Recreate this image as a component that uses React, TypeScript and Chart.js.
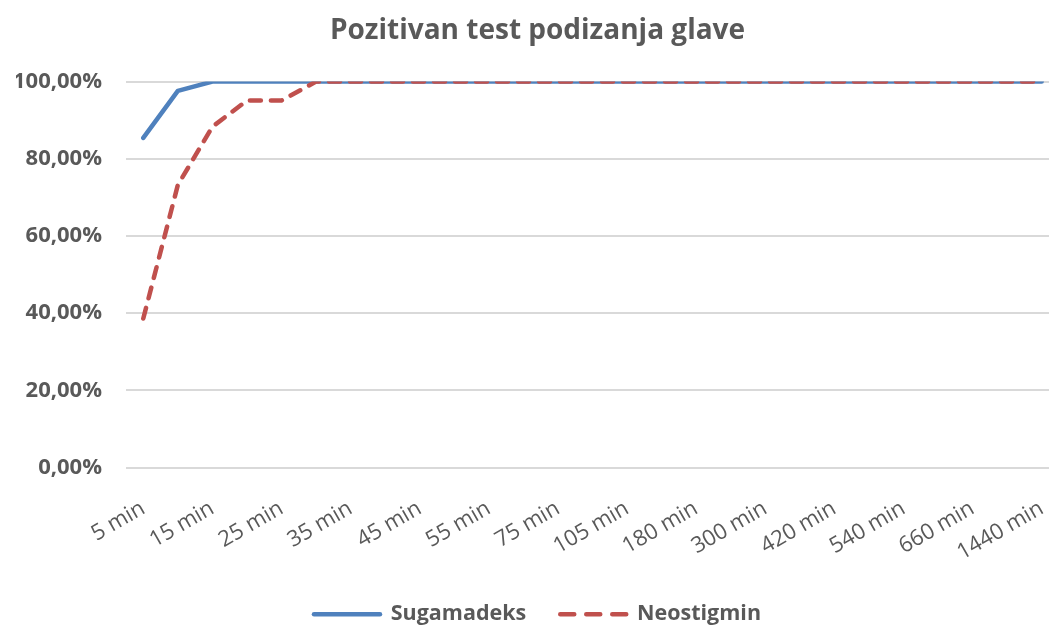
import React, { useEffect, useRef } from "react";
import { Chart, registerables } from "chart.js";

Chart.register(...registerables);

const categories = [
  "5 min", "10 min", "15 min", "20 min", "25 min", "30 min", "35 min", "40 min", "45 min",
  "50 min", "55 min", "60 min", "75 min", "90 min", "105 min", "120 min", "180 min", "240 min",
  "300 min", "360 min", "420 min", "480 min", "540 min", "600 min", "660 min", "720 min", "1440 min",
];

const sugamadeks = [
  85.4, 97.6, 100, 100, 100, 100, 100, 100, 100, 100, 100, 100, 100, 100, 100, 100, 100, 100,
  100, 100, 100, 100, 100, 100, 100, 100, 100,
];

const neostigmin = [
  38.6, 73.2, 88.3, 95.1, 95.1, 100, 100, 100, 100, 100, 100, 100, 100, 100, 100, 100, 100, 100,
  100, 100, 100, 100, 100, 100, 100, 100, 100,
];

const yTicks = [0, 20, 40, 60, 80, 100];

const TEXT = "#595959";
const FONT = "'Open Sans', 'Liberation Sans', sans-serif";
const W = 1088;
const H = 631;

export default function App() {
  const ref = useRef<HTMLCanvasElement | null>(null);

  useEffect(() => {
    if (!ref.current) return;
    const chart = new Chart(ref.current, {
      type: "line",
      data: {
        labels: categories,
        datasets: [
          {
            label: "Sugamadeks",
            data: sugamadeks,
            borderColor: "#4F81BD",
            backgroundColor: "#4F81BD",
            borderWidth: 4.5,
            borderCapStyle: "round",
            borderJoinStyle: "round",
            pointRadius: 0,
            pointHoverRadius: 0,
            tension: 0,
            order: 1,
          },
          {
            label: "Neostigmin",
            data: neostigmin,
            borderColor: "#C0504D",
            backgroundColor: "#C0504D",
            borderWidth: 4.5,
            borderDash: [11, 10],
            borderCapStyle: "round",
            borderJoinStyle: "round",
            pointRadius: 0,
            pointHoverRadius: 0,
            tension: 0,
            order: 0,
          },
        ],
      },
      options: {
        responsive: false,
        animation: false,
        layout: { padding: { left: 16, right: 29, top: 0, bottom: -4 } },
        plugins: {
          tooltip: { enabled: false },
          title: {
            display: true,
            text: "Pozitivan test podizanja glave",
            color: TEXT,
            font: { family: FONT, size: 28, weight: "bold" },
            padding: { top: 14, bottom: 34 },
          },
          legend: {
            position: "bottom",
            labels: {
              usePointStyle: true,
              pointStyleWidth: 66,
              boxHeight: 10,
              color: TEXT,
              font: { family: FONT, size: 21.5, weight: "bold" },
              padding: 34,
              generateLabels: (c: any) =>
                c.data.datasets.map((ds: any, i: number) => ({
                  text: ds.label,
                  datasetIndex: i,
                  fillStyle: ds.borderColor,
                  strokeStyle: ds.borderColor,
                  lineWidth: 4.5,
                  lineDash: ds.borderDash ? [14, 12] : [],
                  lineCap: "round",
                  pointStyle: "line",
                  fontColor: TEXT,
                  hidden: false,
                })),
            },
          },
        },
        scales: {
          x: {
            offset: true,
            grid: { display: false },
            border: { display: false },
            afterFit: (s: any) => {
              s.height = 102;
            },
            ticks: {
              autoSkip: false,
              maxRotation: 30,
              minRotation: 30,
              color: TEXT,
              padding: 20,
              font: { family: FONT, size: 22 },
              callback: (_v: any, i: number) => (i % 2 === 0 ? categories[i] : ""),
            },
          },
          y: {
            min: 0,
            max: 100,
            border: { display: false },
            grid: { color: "#D9D9D9", lineWidth: 2, drawTicks: false },
            afterFit: (s: any) => {
              s.width = 110;
            },
            afterBuildTicks: (s: any) => {
              s.ticks = yTicks.map((v) => ({ value: v }));
            },
            ticks: {
              color: TEXT,
              padding: 24,
              font: { family: FONT, size: 22, weight: "bold" },
              callback: (v: any) => Number(v).toFixed(2).replace(".", ",") + "%",
            },
          },
        },
      },
    });
    return () => chart.destroy();
  }, []);

  return (
    <div
      style={{
        position: "fixed",
        left: 0,
        top: 0,
        width: 1049,
        height: H,
        overflow: "hidden",
        background: "#fff",
      }}
    >
      <canvas ref={ref} width={W} height={H} style={{ display: "block", width: W, height: H }} />
    </div>
  );
}
